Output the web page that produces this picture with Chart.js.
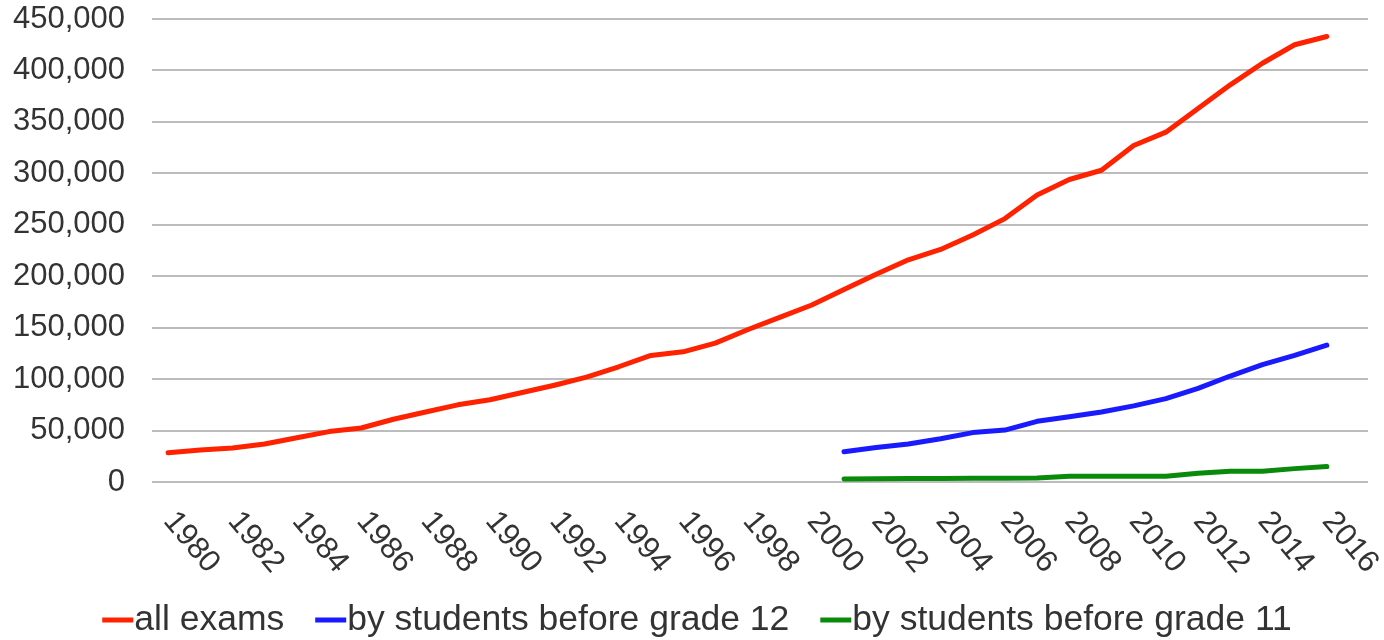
<!DOCTYPE html>
<html>
<head>
<meta charset="utf-8">
<script src="https://cdn.jsdelivr.net/npm/chart.js@4.4.1/dist/chart.umd.min.js"></script>
<style>
  html, body { margin: 0; padding: 0; background: #ffffff; }
  #wrap { width: 1384px; height: 640px; position: relative; }
</style>
</head>
<body>
<div id="wrap"><canvas id="c"></canvas></div>
<script>
// ---- data ----
const years = [1980,1981,1982,1983,1984,1985,1986,1987,1988,1989,1990,1991,1992,1993,1994,1995,1996,1997,1998,1999,2000,2001,2002,2003,2004,2005,2006,2007,2008,2009,2010,2011,2012,2013,2014,2015,2016];
const allExams = [28500,31000,33000,37000,43000,49000,52500,61000,68000,75000,80000,87000,94000,102000,112000,123000,126500,135000,148000,160000,172000,187000,202000,216000,226000,240000,256000,279000,294000,303000,327000,340000,363000,386000,407000,425000,433000];
const laterYears = [2001,2002,2003,2004,2005,2006,2007,2008,2009,2010,2011,2012,2013,2014,2015,2016];
const beforeGrade12 = [29500,33500,37000,42000,48000,50500,59000,63500,68000,74000,81000,91000,103000,114000,123000,133000];
const beforeGrade11 = [3000,3200,3300,3500,3600,3700,3900,5500,5700,5600,5700,8500,10500,10500,13000,15000];
const seriesNames = ['all exams','by students before grade 12','by students before grade 11'];
const xTickLabels = ['1980','1982','1984','1986','1988','1990','1992','1994','1996','1998','2000','2002','2004','2006','2008','2010','2012','2014','2016'];
const yTickValues = [0,50000,100000,150000,200000,250000,300000,350000,400000,450000];

const FONT = '"Liberation Sans", Arial, sans-serif';
const colors = ['#ff2200','#1a1aff','#0a8a0a'];

function pts(xs, ys) { return xs.map((x, i) => ({ x: x, y: ys[i] })); }

const rotatedXLabels = {
  id: 'rotatedXLabels',
  afterDraw(chart) {
    const ctx = chart.ctx;
    const xs = chart.scales.x;
    const bottom = chart.chartArea.bottom;
    ctx.save();
    ctx.font = '31px ' + FONT;
    ctx.fillStyle = '#333333';
    ctx.textAlign = 'left';
    ctx.textBaseline = 'middle';
    xTickLabels.forEach(lbl => {
      const px = xs.getPixelForValue(Number(lbl));
      ctx.save();
      ctx.translate(px + 1, bottom + 34);
      ctx.rotate(50 * Math.PI / 180);
      ctx.fillText(lbl, 0, 0);
      ctx.restore();
    });
    ctx.restore();
  }
};

const lineLegend = {
  id: 'lineLegend',
  afterDraw(chart) {
    const ctx = chart.ctx;
    ctx.save();
    ctx.font = '35.5px ' + FONT;
    ctx.textBaseline = 'middle';
    ctx.textAlign = 'left';
    const markW = 31, gapText = 1, gapItem = 31;
    const items = chart.data.datasets.map(d => ({ label: d.label, color: d.borderColor, w: ctx.measureText(d.label).width }));
    let total = 0;
    items.forEach((it, i) => { total += markW + gapText + it.w + (i < items.length - 1 ? gapItem : 0); });
    let x = chart.width / 2 - total / 2 + 5;
    const y = 620;
    items.forEach(it => {
      ctx.fillStyle = it.color;
      ctx.fillRect(x, y - 2.5, markW, 5);
      x += markW + gapText;
      ctx.fillStyle = '#333333';
      ctx.fillText(it.label, x, y);
      x += it.w + gapItem;
    });
    ctx.restore();
  }
};

new Chart(document.getElementById('c'), {
  type: 'line',
  data: {
    datasets: [
      { label: seriesNames[0], data: pts(years, allExams), borderColor: colors[0], backgroundColor: colors[0] },
      { label: seriesNames[1], data: pts(laterYears, beforeGrade12), borderColor: colors[1], backgroundColor: colors[1] },
      { label: seriesNames[2], data: pts(laterYears, beforeGrade11), borderColor: colors[2], backgroundColor: colors[2] }
    ]
  },
  options: {
    responsive: true,
    maintainAspectRatio: false,
    animation: false,
    devicePixelRatio: 1,
    layout: { padding: { top: 19, right: 16, left: 0, bottom: 0 } },
    elements: {
      line: { borderWidth: 5, tension: 0, borderCapStyle: 'round', borderJoinStyle: 'round' },
      point: { radius: 0, hoverRadius: 0 }
    },
    plugins: { legend: { display: false }, tooltip: { enabled: false } },
    scales: {
      x: {
        type: 'linear',
        min: 1979.5,
        max: 2017.28,
        grid: { display: false },
        border: { display: false },
        ticks: { display: false },
        afterFit(scale) { scale.height = 158; scale.paddingLeft = 0; scale.paddingRight = 0; }
      },
      y: {
        min: 0,
        max: 450000,
        afterBuildTicks(scale) { scale.ticks = yTickValues.map(v => ({ value: v })); },
        grid: { color: '#bcbcbc', lineWidth: 2, drawTicks: false },
        border: { display: false },
        ticks: {
          padding: 27,
          color: '#333333',
          font: { family: FONT, size: 31 },
          callback: v => v.toLocaleString('en-US')
        },
        afterFit(scale) { scale.width = 152; scale.paddingTop = 0; scale.paddingBottom = 0; }
      }
    }
  },
  plugins: [rotatedXLabels, lineLegend]
});
</script>
</body>
</html>
